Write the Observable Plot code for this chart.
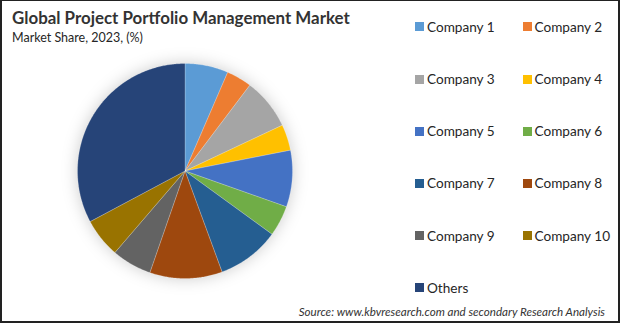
<!DOCTYPE html>
<html>
<head>
<meta charset="utf-8">
<script src="https://cdn.jsdelivr.net/npm/d3@7"></script>
<script src="https://cdn.jsdelivr.net/npm/@observablehq/plot@0.6"></script>
<style>
  html, body { margin: 0; padding: 0; background: #fff; }
  #wrap { position: relative; width: 620px; height: 323px; overflow: hidden; background: #fff; font-family: Lato, "Open Sans", sans-serif; color: #262626; }
  #frame { position: absolute; left: 0; top: 0; width: 620px; height: 323px; box-sizing: border-box; border: 2px solid #222; border-top-width: 1px; pointer-events: none; }
  #chart { position: absolute; left: 0; top: 0; }
  #chart svg { overflow: visible; }
  #title { position: absolute; left: 12px; top: 7px; font-size: 16.9px; font-weight: bold; color: #333; }
  #subtitle { position: absolute; left: 12px; top: 30px; font-size: 12.5px; color: #262626; }
  #legend { position: absolute; left: 0; top: 0; width: 620px; height: 323px; }
  .item { position: absolute; font-size: 13.6px; line-height: 16px; white-space: nowrap; color: #262626; }
  .sw { position: absolute; width: 9px; height: 9px; }
  #source { position: absolute; right: 15px; top: 305px; font-size: 11.6px; font-style: italic; color: #333; }
</style>
</head>
<body>
<div id="wrap">
  <div id="chart"></div>
  <div id="title">Global Project Portfolio Management Market</div>
  <div id="subtitle">Market Share, 2023, (%)</div>
  <div id="legend"></div>
  <div id="source">Source: www.kbvresearch.com and secondary Research Analysis</div>
  <div id="frame"></div>
</div>
<script>
const categories = ["Company 1","Company 2","Company 3","Company 4","Company 5","Company 6","Company 7","Company 8","Company 9","Company 10","Others"];
const shares = [6.5, 3.8, 7.7, 3.9, 8.5, 4.6, 9.4, 10.9, 6.0, 5.9, 32.8];
const colors = ["#5B9BD5","#ED7D31","#A5A5A5","#FFC000","#4472C4","#70AD47","#255E91","#9E480E","#636363","#997300","#264478"];

const data = categories.map((name, i) => ({name, value: shares[i]}));
const arcs = d3.pie().sort(null).value(d => d.value)(data);

// polygon vertices per slice, in unit-circle data coordinates (angle clockwise from top)
const pts = [];
arcs.forEach(a => {
  const n = Math.max(2, Math.ceil((a.endAngle - a.startAngle) / 0.01));
  pts.push({name: a.data.name, x: 0, y: 0});
  for (let k = 0; k <= n; k++) {
    const t = a.startAngle + (a.endAngle - a.startAngle) * k / n;
    pts.push({name: a.data.name, x: Math.sin(t), y: Math.cos(t)});
  }
  pts.push({name: a.data.name, x: 0, y: 0});
});

const cx = 184.5, cy = 170.5, r = 107.5, W = 620, H = 323;
const plot = Plot.plot({
  width: W, height: H,
  marginLeft: cx - r, marginRight: W - (cx + r),
  marginTop: cy - r, marginBottom: H - (cy + r),
  x: {domain: [-1, 1], axis: null},
  y: {domain: [-1, 1], axis: null},
  color: {domain: categories, range: colors},
  style: {background: "transparent", overflow: "visible"},
  marks: [
    Plot.line(pts, {x: "x", y: "y", z: "name", fill: "name", stroke: "#ffffff", strokeOpacity: 0.35, strokeWidth: 0.6, curve: "linear-closed"})
  ]
});
const g = plot.querySelector("g[aria-label='line']");
if (g) g.style.filter = "drop-shadow(0px 0px 8px rgba(0,0,0,0.2))";
document.getElementById("chart").appendChild(plot);

// legend
const legend = document.getElementById("legend");
const colX = [415, 522.5];
const rowY = [26.5, 79, 131, 183.3, 235.5, 287.5];
categories.forEach((name, i) => {
  const col = i % 2, row = Math.floor(i / 2);
  const sw = document.createElement("div");
  sw.className = "sw";
  sw.style.left = colX[col] + "px";
  sw.style.top = (rowY[row] - 4.5) + "px";
  sw.style.background = colors[i];
  legend.appendChild(sw);
  const t = document.createElement("div");
  t.className = "item";
  t.style.left = (colX[col] + 12) + "px";
  t.style.top = (rowY[row] - 8) + "px";
  t.textContent = name;
  legend.appendChild(t);
});
</script>
</body>
</html>
